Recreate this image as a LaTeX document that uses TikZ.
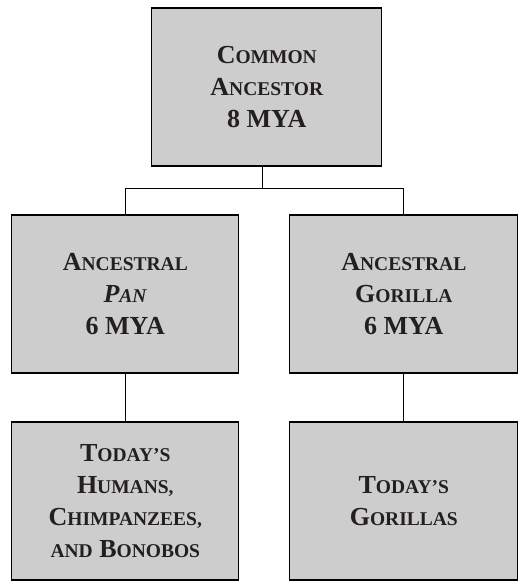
\documentclass[tikz,border=0pt]{standalone}
\usepackage{fontspec}
\setmainfont{Liberation Serif}
\usepackage{tikz}
\usepackage{xcolor}
\definecolor{boxc}{HTML}{CDCDCD}
\definecolor{inkc}{HTML}{231F20}
\newcommand{\lowcap}[1]{{\fontsize{19.5}{20}\selectfont #1}}
\tikzset{
  taxon/.style={draw=black, fill=boxc, line width=1.2pt, inner sep=0pt,
    minimum height=158pt, text=inkc, align=center,
    font=\bfseries\fontsize{26}{32}\selectfont},
  link/.style={draw=black, line width=1pt},
}

\begin{document}
\begin{tikzpicture}[x=1pt, y=1pt]
\useasboundingbox (0,0) rectangle (528,588);
\node[taxon, minimum width=230pt] (common) at (266.8,501) {C\lowcap{OMMON}\\A\lowcap{NCESTOR}\\8 MYA};
\node[taxon, minimum width=227pt] (pan) at (125.3,294) {A\lowcap{NCESTRAL}\\\textit{P\lowcap{AN}}\\6 MYA};
\node[taxon, minimum width=228pt] (gorilla) at (403.8,294) {A\lowcap{NCESTRAL}\\G\lowcap{ORILLA}\\6 MYA};
\node[taxon, minimum width=227pt] (hominins) at (125.3,87) {T\lowcap{ODAY’S}\\H\lowcap{UMANS,}\\C\lowcap{HIMPANZEES,}\\\lowcap{AND} B\lowcap{ONOBOS}};
\node[taxon, minimum width=228pt] (gorillas) at (403.8,87) {T\lowcap{ODAY’S}\\G\lowcap{ORILLAS}};
\draw[link] ([xshift=-4.5pt]common.south) -- ++(0,-22) coordinate (split);
\draw[link] (pan.north) |- (split) -| (gorilla.north);
\draw[link] (pan.south) -- (hominins.north);
\draw[link] (gorilla.south) -- (gorillas.north);
\end{tikzpicture}
\end{document}
